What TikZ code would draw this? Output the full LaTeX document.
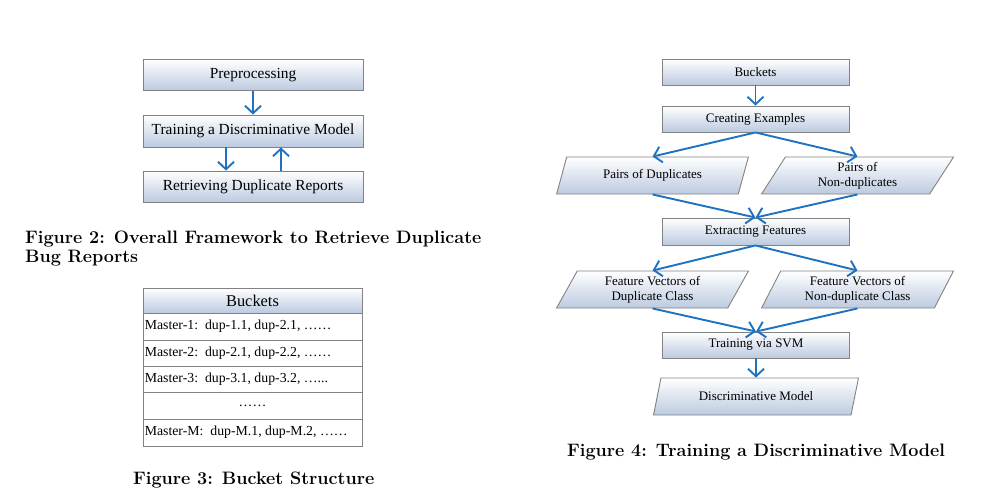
\documentclass[tikz,border=0pt]{standalone}
\usepackage{fontspec}
\newfontfamily\tnr{Liberation Serif}
\usetikzlibrary{arrows.meta,shapes.geometric}
\definecolor{arrowblue}{RGB}{31,114,193}
\definecolor{gbot}{RGB}{188,202,224}
\definecolor{boxline}{RGB}{130,130,130}
\tikzset{
  boxnode/.style={draw=boxline, line width=0.9pt, top color=white, bottom color=gbot,
    inner sep=0pt, align=center},
  paranode/.style={trapezium, trapezium left angle=64, trapezium right angle=116,
    trapezium stretches=true, draw=boxline, line width=0.9pt, top color=white,
    bottom color=gbot, inner sep=0pt, align=center,
    minimum width=192pt, minimum height=37pt, font=\tnr\fontsize{13}{15}\selectfont},
  flowbox/.style={boxnode, minimum width=187pt, minimum height=26pt, font=\tnr\fontsize{13}{15}\selectfont},
  fwbox/.style={boxnode, minimum width=220pt, minimum height=31pt, font=\tnr\fontsize{15.4}{18}\selectfont},
  rowbox/.style={draw=boxline, line width=0.9pt, fill=white, minimum width=219pt, inner sep=0pt},
  rowtext/.style={anchor=west, inner sep=0pt, font=\tnr\fontsize{13.8}{16}\selectfont},
  arr/.style={draw=arrowblue, line width=1.9pt, -{Straight Barb[length=7.5pt,width=16pt,line width=1.9pt]}},
  captext/.style={anchor=base west, inner sep=0pt, font=\bfseries\fontsize{18}{22}\selectfont}
}
\begin{document}
\begin{tikzpicture}[x=1pt,y=-1pt]
\useasboundingbox (0,0) rectangle (1007,493);
% ---------------- Figure 2 ----------------
\node[fwbox] (pre) at (253,75) {Preprocessing};
\node[fwbox, minimum height=32pt] (train) at (253,131) {Training a Discriminative Model};
\node[fwbox] (retr) at (253,186.5) {Retrieving Duplicate Reports};
\draw[arr] (pre.south) -- (train.north);
\coordinate (t1) at ([xshift=-27pt]train.south);
\coordinate (r1) at ([xshift=-27pt]retr.north);
\coordinate (t2) at ([xshift=28pt]train.south);
\coordinate (r2) at ([xshift=28pt]retr.north);
\draw[arr] (t1) -- (r1);
\draw[arr] (r2) -- (t2);
\node[captext] (cap2a) at (25,243) {Figure 2: Overall Framework to Retrieve Duplicate};
\node[captext] (cap2b) at (25,262) {Bug Reports};
% ---------------- Figure 3 ----------------
\node[boxnode, minimum width=219pt, minimum height=25pt, font=\tnr\fontsize{16.4}{19}\selectfont] (bh) at (252.5,300.5) {Buckets};
\node[rowbox, minimum height=27pt] (row1) at (252.5,326.5) {};
\node[rowbox, minimum height=26pt] (row2) at (252.5,353) {};
\node[rowbox, minimum height=26pt] (row3) at (252.5,379) {};
\node[rowbox, minimum height=27pt] (row4) at (252.5,405.5) {};
\node[rowbox, minimum height=27pt] (row5) at (252.5,432.5) {};
\node[rowtext] (t1r) at ([xshift=2pt]row1.west) {Master-1:\ \ dup-1.1, dup-2.1, ……};
\node[rowtext] (t2r) at ([xshift=2pt]row2.west) {Master-2:\ \ dup-2.1, dup-2.2, ……};
\node[rowtext] (t3r) at ([xshift=2pt]row3.west) {Master-3:\ \ dup-3.1, dup-3.2, …...};
\node[inner sep=0pt, font=\tnr\fontsize{13.8}{16}\selectfont] (t4r) at (row4.center) {……};
\node[rowtext] (t5r) at ([xshift=2pt]row5.west) {Master-M:\ \ dup-M.1, dup-M.2, ……};
\node[captext] (cap3) at (133,484) {Figure 3: Bucket Structure};
% ---------------- Figure 4 ----------------
\node[flowbox] (bk) at (755.5,72) {Buckets};
\node[flowbox] (ce) at (755.5,119) {Creating Examples};
\node[paranode] (pd) at (652.5,175.5) {Pairs of Duplicates};
\node[paranode] (pn) at (857.5,175.5) {Pairs of\\Non-duplicates};
\node[flowbox, minimum height=27pt] (ef) at (755.5,231.5) {Extracting Features};
\node[paranode] (fd) at (652.5,289.5) {Feature Vectors of\\Duplicate Class};
\node[paranode] (fn) at (857.5,289.5) {Feature Vectors of\\Non-duplicate Class};
\node[flowbox] (svm) at (756,345) {Training via SVM};
\node[paranode, minimum width=205pt, minimum height=37pt] (dm) at (756,396.5) {Discriminative Model};
\draw[arr] (bk.south) -- (ce.north);
\draw[arr] (ce.south) -- (pd.north);
\draw[arr] (ce.south) -- (pn.north);
\draw[arr] (pd.south) -- (ef.north);
\draw[arr] (pn.south) -- (ef.north);
\draw[arr] (ef.south) -- (fd.north);
\draw[arr] (ef.south) -- (fn.north);
\draw[arr] (fd.south) -- (svm.north);
\draw[arr] (fn.south) -- (svm.north);
\draw[arr] (svm.south) -- (dm.north);
\node[captext] (cap4) at (567,456) {Figure 4: Training a Discriminative Model};
\end{tikzpicture}
\end{document}
